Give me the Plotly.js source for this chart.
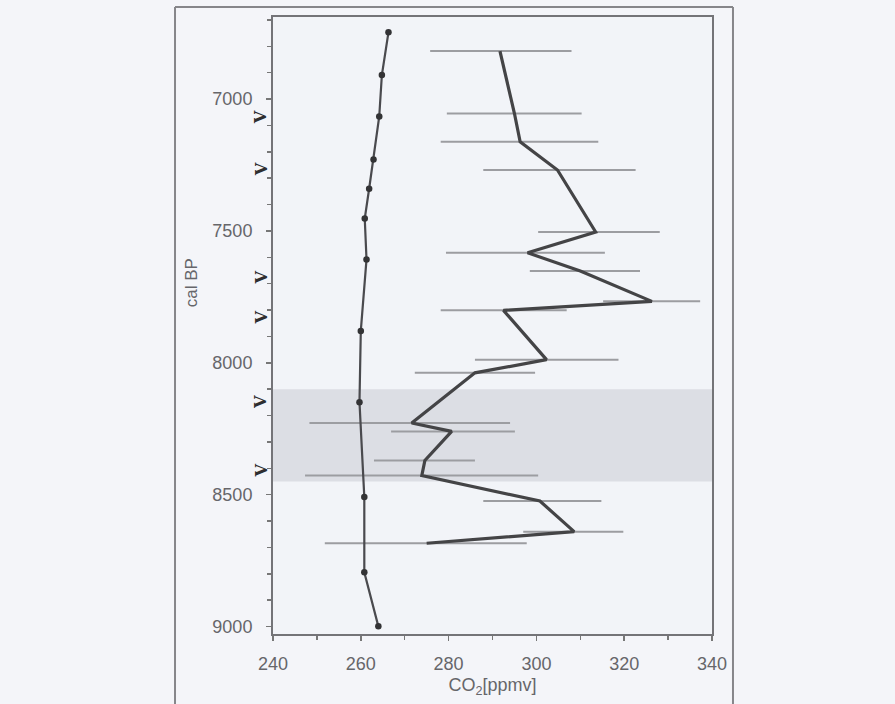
<!DOCTYPE html>
<html>
<head>
<meta charset="utf-8">
<script src="https://cdn.plot.ly/plotly-3.0.1.min.js"></script>
<style>
html,body{margin:0;padding:0;background:#f4f5f9;}
#chart{width:895px;height:704px;}
</style>
</head>
<body>
<div id="chart"></div>
<script>
// Left series: CO2 (ice-core reference curve)
const iceCO2 = [266.3, 264.8, 264.2, 262.9, 261.9, 260.9, 261.3, 260.0, 259.7, 260.8, 260.8, 264.0];
const iceAge = [6747, 6909, 7066, 7229, 7340, 7453, 7608, 7879, 8149, 8509, 8794, 8999];

// Right series: CO2 reconstruction with horizontal error bars
const recCO2 = [291.7, 295.0, 296.3, 304.8, 313.5, 298.0, 310.0, 326.3, 292.5, 302.3, 286.0, 271.6, 280.7, 274.6, 273.9, 300.8, 308.6, 275.0];
const recAge = [6818, 7055, 7162, 7269, 7504, 7583, 7652, 7767, 7801, 7988, 8038, 8228, 8260, 8370, 8427, 8524, 8640, 8684];
const recLow = [275.8, 279.6, 278.2, 287.9, 300.4, 279.4, 298.5, 315.2, 278.2, 286.0, 272.3, 248.3, 266.9, 263.0, 247.3, 287.9, 297.0, 251.8];
const recHigh = [308.0, 310.3, 314.1, 322.6, 328.1, 315.6, 323.6, 337.3, 306.9, 318.7, 299.7, 294.0, 295.1, 286.0, 300.4, 314.8, 319.8, 297.8];

// Dating points marked beside the age axis
const datingAges = [7068, 7266, 7676, 7828, 8148, 8408];

// Shaded interval (cal BP)
const bandStart = 8100;
const bandEnd = 8450;

const xTickVals = [240, 260, 280, 300, 320, 340];
const yTickVals = [7000, 7500, 8000, 8500, 9000];

const errPlus = recHigh.map((h, i) => h - recCO2[i]);
const errMinus = recCO2.map((c, i) => c - recLow[i]);

const traces = [
  {
    x: recCO2, y: recAge, type: 'scatter', mode: 'lines',
    line: {color: '#444446', width: 3.2},
    error_x: {type: 'data', symmetric: false, array: errPlus, arrayminus: errMinus,
              color: '#9c9da1', thickness: 2, width: 0},
    showlegend: false, hoverinfo: 'x+y'
  },
  {
    x: iceCO2, y: iceAge, type: 'scatter', mode: 'lines+markers',
    line: {color: '#4a4a4e', width: 2.2},
    marker: {color: '#333335', size: 6.5},
    showlegend: false, hoverinfo: 'x+y'
  }
];

const gridFont = {family: 'Liberation Sans, Arial, sans-serif', size: 18, color: '#66666a'};

const annotations = datingAges.map(a => ({
  xref: 'paper', yref: 'y', x: -0.027, y: a, text: '<b>V</b>', showarrow: false,
  textangle: -90, font: {family: 'DejaVu Serif, serif', size: 16, color: '#2e2e30'},
  xanchor: 'center', yanchor: 'middle'
}));
annotations.push({
  xref: 'paper', yref: 'paper', x: -0.187, y: 0.57, text: 'cal BP', showarrow: false,
  textangle: -90, font: {family: 'Liberation Sans, Arial, sans-serif', size: 17, color: '#66666a'},
  xanchor: 'center', yanchor: 'middle'
});

const FL = -0.2232, FR = 1.0478, FT = 1.0162, FB = -0.2;

const layout = {
  width: 895, height: 704,
  margin: {l: 273, r: 183, t: 17, b: 70},
  paper_bgcolor: '#f4f5f9',
  plot_bgcolor: '#f2f4f8',
  font: gridFont,
  xaxis: {
    range: [240, 340], tickvals: xTickVals, ticks: 'outside', ticklen: 5, tickwidth: 1.5,
    tickcolor: '#777', showline: true, linecolor: '#747478', linewidth: 2, mirror: true,
    showgrid: false, zeroline: false,
    minor: {dtick: 10, ticks: 'outside', ticklen: 4, tickcolor: '#777', showgrid: false},
    tickfont: gridFont, ticklabelstandoff: 7,
    title: {text: 'CO<sub>2</sub>[ppmv]', font: {family: 'Liberation Sans, Arial, sans-serif', size: 18, color: '#66666a'}, standoff: 6}
  },
  yaxis: {
    range: [9028, 6689], tickvals: yTickVals, ticks: 'outside', ticklen: 5, tickwidth: 1.5,
    tickcolor: '#777', showline: true, linecolor: '#747478', linewidth: 2, mirror: true,
    showgrid: false, zeroline: false,
    minor: {dtick: 100, ticks: 'outside', ticklen: 4, tickcolor: '#777', showgrid: false},
    tickfont: gridFont, ticklabelstandoff: 10
  },
  shapes: [
    {type: 'rect', xref: 'paper', yref: 'y', x0: 0, x1: 1, y0: bandStart, y1: bandEnd,
     fillcolor: '#dcdee4', line: {width: 0}, layer: 'below'},
    {type: 'line', xref: 'paper', yref: 'paper', x0: FL, x1: FL, y0: FB, y1: FT, line: {color: '#86868a', width: 2}},
    {type: 'line', xref: 'paper', yref: 'paper', x0: FL, x1: FR, y0: FT, y1: FT, line: {color: '#86868a', width: 2}},
    {type: 'line', xref: 'paper', yref: 'paper', x0: FR, x1: FR, y0: FB, y1: FT, line: {color: '#86868a', width: 2}}
  ],
  annotations: annotations
};

Plotly.newPlot('chart', traces, layout, {displayModeBar: false, staticPlot: true});
</script>
</body>
</html>
